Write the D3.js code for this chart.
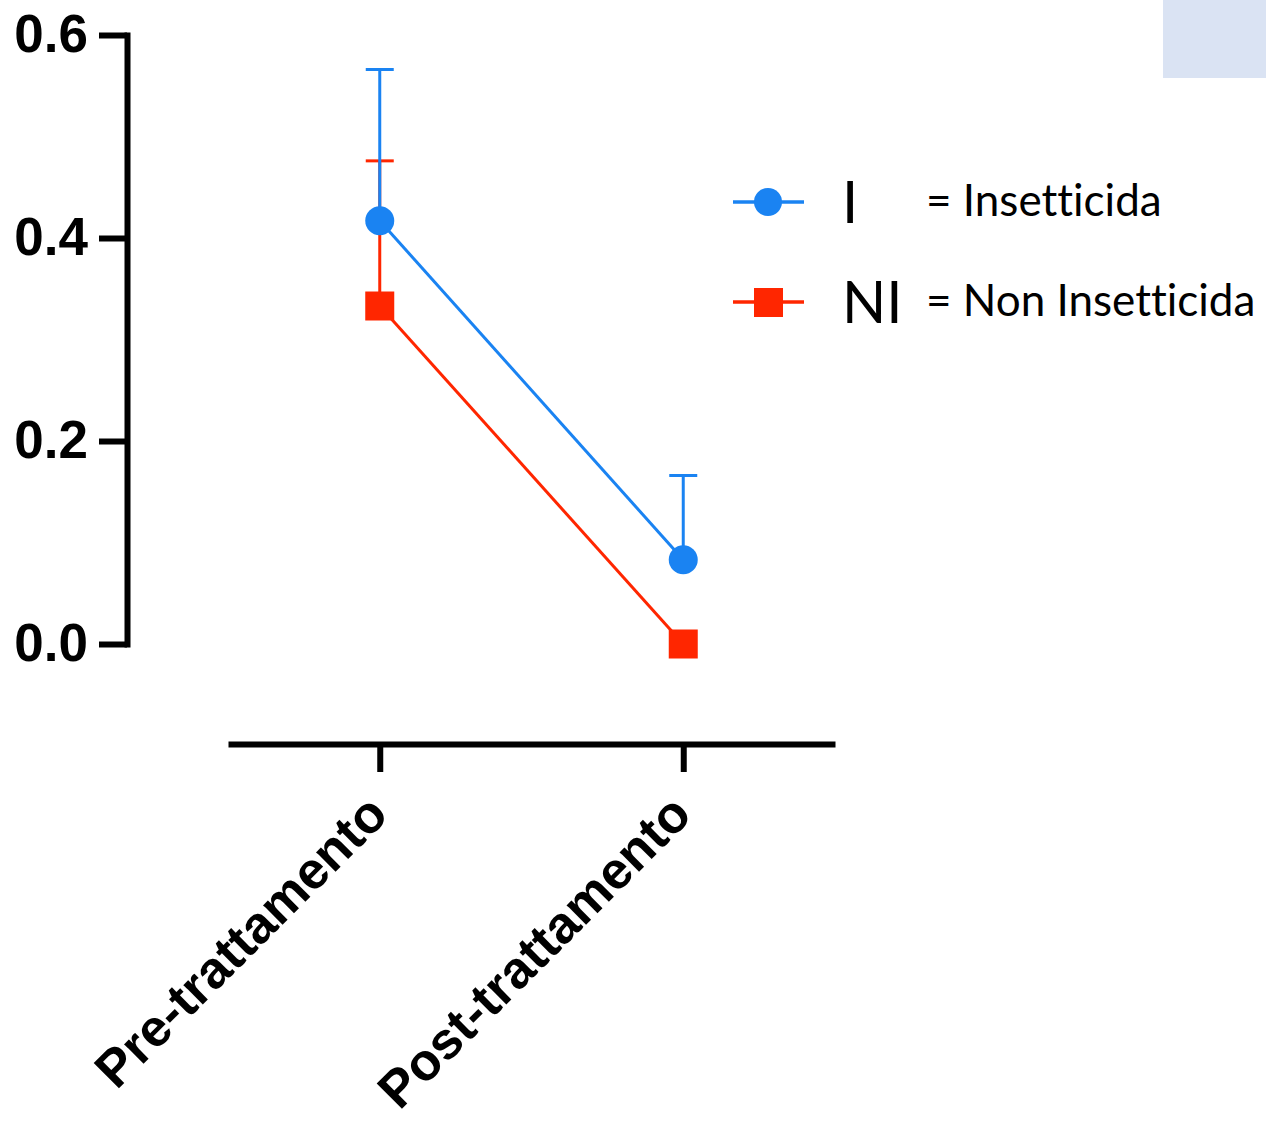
<!DOCTYPE html>
<html>
<head>
<meta charset="utf-8">
<script src="https://cdn.jsdelivr.net/npm/d3@7"></script>
<style>
  body { margin: 0; background: #fff; }
  svg { display: block; }
  text { font-variant-ligatures: none; }
</style>
</head>
<body>
<script>
// data
const categories = ["Pre-trattamento", "Post-trattamento"];
const seriesNames = ["NI", "I"];
const seriesLabels = ["= Non Insetticida", "= Insetticida"];
const valuesI = [0.417, 0.083];
const errorsI = [0.149, 0.083];
const valuesNI = [0.333, 0.0];
const errorsNI = [0.143, 0.0];
const yTicks = [0.0, 0.2, 0.4, 0.6];

const blue = "#1a83f2";
const red = "#ff2600";

const svg = d3.select("body").append("svg")
    .attr("width", 1266)
    .attr("height", 1121);

// the pale box in the corner
svg.append("rect")
    .attr("x", 1163).attr("y", 0)
    .attr("width", 103).attr("height", 78)
    .attr("fill", "#dae3f3");

const x = d3.scalePoint().domain(categories).range([228, 835]).padding(0.5);
const y = d3.scaleLinear().domain([0, 0.6]).range([644, 35]);

// y axis
const yAxisG = svg.append("g")
    .attr("transform", "translate(127,0)")
    .call(d3.axisLeft(y).tickValues(yTicks).tickFormat(d3.format(".1f"))
        .tickSize(28).tickSizeOuter(0).tickPadding(11));
yAxisG.select(".domain").attr("stroke-width", 6).attr("stroke-linecap", "square");
yAxisG.selectAll(".tick line").attr("stroke-width", 6);
yAxisG.selectAll(".tick text")
    .attr("font-family", "Liberation Sans, Arial, sans-serif")
    .attr("font-weight", "bold")
    .attr("font-size", 53)
    .attr("fill", "#000");

// x axis
const xAxisG = svg.append("g")
    .attr("transform", "translate(0,744)")
    .call(d3.axisBottom(x).tickSize(28).tickSizeOuter(0));
xAxisG.select(".domain").attr("stroke-width", 6);
xAxisG.selectAll(".tick line").attr("stroke-width", 6);
xAxisG.selectAll(".tick text")
    .attr("font-family", "Liberation Sans, Arial, sans-serif")
    .attr("font-weight", "bold")
    .attr("font-size", 52)
    .attr("fill", "#000")
    .attr("text-anchor", "end")
    .attr("y", 0).attr("dy", 0)
    .attr("transform", "translate(10,73) rotate(-45)");

const series = [
    { name: "NI", values: valuesNI, errors: errorsNI, color: red, shape: "square" },
    { name: "I", values: valuesI, errors: errorsI, color: blue, shape: "circle" }
];

const line = d3.line()
    .x((d, i) => x(categories[i]))
    .y(d => y(d));

series.forEach(s => {
    const g = svg.append("g");
    // error bars (upper only)
    s.values.forEach((v, i) => {
        if (s.errors[i] <= 0) return;
        const cx = x(categories[i]);
        g.append("line")
            .attr("x1", cx).attr("x2", cx)
            .attr("y1", y(v)).attr("y2", y(v + s.errors[i]))
            .attr("stroke", s.color).attr("stroke-width", 3);
        g.append("line")
            .attr("x1", cx - 14).attr("x2", cx + 14)
            .attr("y1", y(v + s.errors[i])).attr("y2", y(v + s.errors[i]))
            .attr("stroke", s.color).attr("stroke-width", 3);
    });
    g.append("path")
        .attr("d", line(s.values))
        .attr("fill", "none")
        .attr("stroke", s.color)
        .attr("stroke-width", 3);
    s.values.forEach((v, i) => {
        const cx = x(categories[i]);
        if (s.shape === "circle") {
            g.append("circle").attr("cx", cx).attr("cy", y(v)).attr("r", 14.5).attr("fill", s.color);
        } else {
            g.append("rect").attr("x", cx - 14.5).attr("y", y(v) - 14.5)
                .attr("width", 29).attr("height", 29).attr("fill", s.color);
        }
    });
});

// legend
const legendRows = [
    { name: seriesNames[1], label: seriesLabels[1], color: blue, shape: "circle", y: 202 },
    { name: seriesNames[0], label: seriesLabels[0], color: red, shape: "square", y: 302 }
];
legendRows.forEach(r => {
    const g = svg.append("g");
    g.append("line")
        .attr("x1", 733).attr("x2", 804)
        .attr("y1", r.y).attr("y2", r.y)
        .attr("stroke", r.color).attr("stroke-width", 3.5);
    if (r.shape === "circle") {
        g.append("circle").attr("cx", 768).attr("cy", r.y).attr("r", 14).attr("fill", r.color);
    } else {
        g.append("rect").attr("x", 754).attr("y", r.y - 14)
            .attr("width", 29).attr("height", 29).attr("fill", r.color);
    }
    g.append("text")
        .attr("x", 842).attr("y", r.y + 21)
        .attr("font-family", "Lato, sans-serif")
        .attr("font-size", 58)
        .text(r.name);
    g.append("text")
        .attr("x", 926).attr("y", r.y + 14)
        .attr("font-family", "Lato, sans-serif")
        .attr("font-size", 44)
        .text(r.label);
});
</script>
</body>
</html>
